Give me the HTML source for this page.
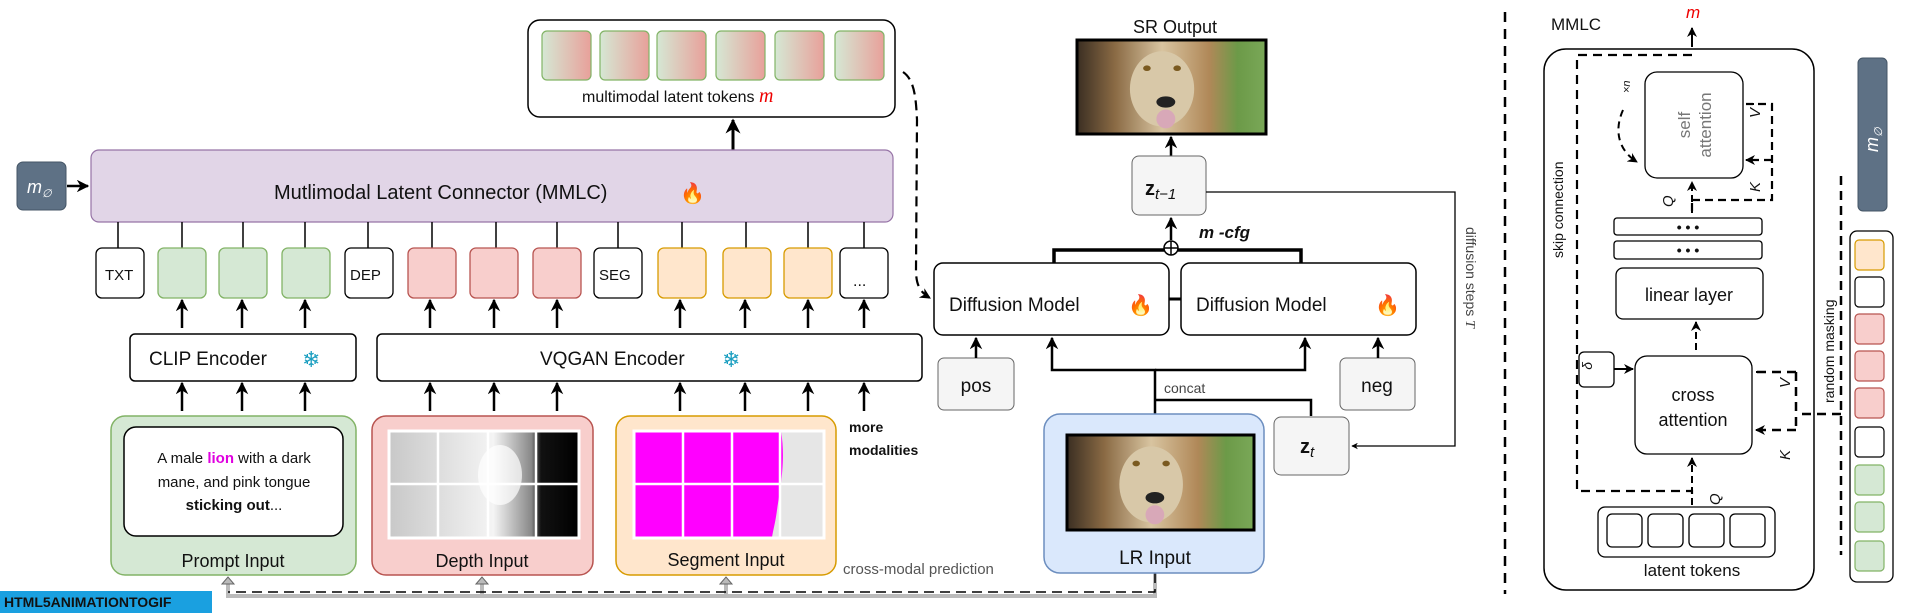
<!DOCTYPE html>
<html><head><meta charset="utf-8"><style>
html,body{margin:0;padding:0;background:#fff}
svg{display:block}
text{font-family:"Liberation Sans",sans-serif;fill:#111}
</style></head><body>
<svg width="1920" height="613" viewBox="0 0 1920 613" xmlns="http://www.w3.org/2000/svg">
<defs>
<linearGradient id="tok" x1="0" x2="1"><stop offset="0" stop-color="#d5e8d4"/><stop offset="1" stop-color="#e8a09a"/></linearGradient>
<linearGradient id="lg" x1="0" x2="1"><stop offset="0" stop-color="#3a2e22"/><stop offset="0.2" stop-color="#8a6a44"/><stop offset="0.45" stop-color="#d8c4a0"/><stop offset="0.7" stop-color="#b08858"/><stop offset="0.85" stop-color="#6c9a48"/><stop offset="1" stop-color="#7aa858"/></linearGradient>
<linearGradient id="dg" x1="0" x2="1"><stop offset="0" stop-color="#c8c8c8"/><stop offset="0.55" stop-color="#f4f4f4"/><stop offset="0.75" stop-color="#888"/><stop offset="0.8" stop-color="#111"/><stop offset="1" stop-color="#000"/></linearGradient>
<marker id="ar" viewBox="0 0 10 10" refX="9" refY="5" markerWidth="5" markerHeight="5" orient="auto"><path d="M0,0 L10,5 L0,10 L3,5z" fill="#000"/></marker>
<g id="lion">
<rect x="0" y="0" width="100" height="50" fill="url(#lg)"/>
<ellipse cx="45" cy="26" rx="17" ry="20" fill="#d8c8a8"/>
<ellipse cx="37" cy="15" rx="2" ry="1.5" fill="#7a5a20"/><ellipse cx="53" cy="15" rx="2" ry="1.5" fill="#7a5a20"/>
<ellipse cx="47" cy="33" rx="5" ry="3" fill="#222"/>
<ellipse cx="47" cy="42" rx="5" ry="5" fill="#d8a8b8"/>
</g>
</defs>

<rect x="528" y="20" width="367" height="97" rx="12" fill="#fff" stroke="#000" stroke-width="1.5"/>
<g stroke="#82b366" stroke-width="1.2">
<rect x="542" y="31" width="49" height="49" rx="5" fill="url(#tok)"/>
<rect x="600" y="31" width="49" height="49" rx="5" fill="url(#tok)"/>
<rect x="657" y="31" width="49" height="49" rx="5" fill="url(#tok)"/>
<rect x="716" y="31" width="49" height="49" rx="5" fill="url(#tok)"/>
<rect x="775" y="31" width="49" height="49" rx="5" fill="url(#tok)"/>
<rect x="835" y="31" width="49" height="49" rx="5" fill="url(#tok)"/>
</g>
<text x="582" y="102" font-size="16">multimodal latent tokens <tspan style="fill:#e00" font-style="italic" font-family="Liberation Serif" font-size="20">m</tspan></text>
<line x1="733" y1="150" x2="733" y2="120" stroke="#000" stroke-width="3" marker-end="url(#ar)"/>

<rect x="17" y="162" width="49" height="48" rx="6" fill="#5e7185" stroke="#445566"/>
<text x="27" y="193" font-size="18" font-style="italic" font-family="Liberation Serif" style="fill:#fff">m<tspan font-size="11" dy="4">∅</tspan></text>
<line x1="67" y1="186" x2="88" y2="186" stroke="#000" stroke-width="2.5" marker-end="url(#ar)"/>
<rect x="91" y="150" width="802" height="72" rx="8" fill="#e1d5e7" stroke="#9673a6" stroke-width="1.2"/>
<text x="274" y="199" font-size="20">Mutlimodal Latent Connector (MMLC)</text>
<text x="680" y="200" font-size="20">🔥</text>

<g stroke="#000" stroke-width="1.5">
<line x1="118" y1="222" x2="118" y2="248"/><line x1="182" y1="222" x2="182" y2="248"/><line x1="243" y1="222" x2="243" y2="248"/><line x1="305" y1="222" x2="305" y2="248"/>
<line x1="368" y1="222" x2="368" y2="248"/><line x1="432" y1="222" x2="432" y2="248"/><line x1="496" y1="222" x2="496" y2="248"/><line x1="557" y1="222" x2="557" y2="248"/>
<line x1="618" y1="222" x2="618" y2="248"/><line x1="682" y1="222" x2="682" y2="248"/><line x1="746" y1="222" x2="746" y2="248"/><line x1="808" y1="222" x2="808" y2="248"/><line x1="864" y1="222" x2="864" y2="248"/>
</g>
<g stroke-width="1.3">
<rect x="96" y="248" width="48" height="50" rx="6" fill="#fff" stroke="#000"/>
<rect x="158" y="248" width="48" height="50" rx="6" fill="#d5e8d4" stroke="#82b366"/>
<rect x="219" y="248" width="48" height="50" rx="6" fill="#d5e8d4" stroke="#82b366"/>
<rect x="282" y="248" width="48" height="50" rx="6" fill="#d5e8d4" stroke="#82b366"/>
<rect x="345" y="248" width="48" height="50" rx="6" fill="#fff" stroke="#000"/>
<rect x="408" y="248" width="48" height="50" rx="6" fill="#f8cecc" stroke="#b85450"/>
<rect x="470" y="248" width="48" height="50" rx="6" fill="#f8cecc" stroke="#b85450"/>
<rect x="533" y="248" width="48" height="50" rx="6" fill="#f8cecc" stroke="#b85450"/>
<rect x="594" y="248" width="48" height="50" rx="6" fill="#fff" stroke="#000"/>
<rect x="658" y="248" width="48" height="50" rx="6" fill="#ffe6cc" stroke="#d79b00"/>
<rect x="723" y="248" width="48" height="50" rx="6" fill="#ffe6cc" stroke="#d79b00"/>
<rect x="784" y="248" width="48" height="50" rx="6" fill="#ffe6cc" stroke="#d79b00"/>
<rect x="840" y="248" width="48" height="50" rx="6" fill="#fff" stroke="#000"/>
</g>
<text x="105" y="280" font-size="15">TXT</text><text x="350" y="280" font-size="15">DEP</text><text x="599" y="280" font-size="15">SEG</text><text x="853" y="286" font-size="16">...</text>

<g stroke="#000" stroke-width="2.5" marker-end="url(#ar)">
<line x1="182" y1="328" x2="182" y2="300"/><line x1="242" y1="328" x2="242" y2="300"/><line x1="305" y1="328" x2="305" y2="300"/>
<line x1="430" y1="328" x2="430" y2="300"/><line x1="494" y1="328" x2="494" y2="300"/><line x1="557" y1="328" x2="557" y2="300"/>
<line x1="680" y1="328" x2="680" y2="300"/><line x1="745" y1="328" x2="745" y2="300"/><line x1="808" y1="328" x2="808" y2="300"/><line x1="864" y1="328" x2="864" y2="300"/>
<line x1="182" y1="411" x2="182" y2="383"/><line x1="242" y1="411" x2="242" y2="383"/><line x1="305" y1="411" x2="305" y2="383"/>
<line x1="430" y1="411" x2="430" y2="383"/><line x1="494" y1="411" x2="494" y2="383"/><line x1="557" y1="411" x2="557" y2="383"/>
<line x1="680" y1="411" x2="680" y2="383"/><line x1="745" y1="411" x2="745" y2="383"/><line x1="808" y1="411" x2="808" y2="383"/><line x1="864" y1="411" x2="864" y2="383"/>
</g>
<rect x="130" y="334" width="226" height="47" rx="5" fill="#fff" stroke="#000" stroke-width="1.5"/>
<text x="149" y="365" font-size="19">CLIP Encoder</text><text x="302" y="367" font-size="22" style="fill:#1a9ec0">❄</text>
<rect x="377" y="334" width="545" height="47" rx="5" fill="#fff" stroke="#000" stroke-width="1.5"/>
<text x="540" y="365" font-size="19">VQGAN Encoder</text><text x="722" y="367" font-size="22" style="fill:#1a9ec0">❄</text>

<rect x="111" y="416" width="245" height="159" rx="14" fill="#d5e8d4" stroke="#82b366" stroke-width="1.5"/>
<rect x="124" y="427" width="219" height="109" rx="12" fill="#fff" stroke="#000" stroke-width="1.5"/>
<text x="234" y="463" font-size="15" text-anchor="middle">A male <tspan style="fill:#e000e0" font-weight="bold">lion</tspan> with a dark</text>
<text x="234" y="487" font-size="15" text-anchor="middle">mane, and pink tongue</text>
<text x="234" y="510" font-size="15" text-anchor="middle"><tspan font-weight="bold">sticking out</tspan>...</text>
<text x="233" y="567" font-size="18" text-anchor="middle">Prompt Input</text>

<rect x="372" y="416" width="221" height="159" rx="14" fill="#f8cecc" stroke="#b85450" stroke-width="1.5"/>
<rect x="389" y="431" width="190" height="107" fill="url(#dg)"/>
<ellipse cx="500" cy="475" rx="22" ry="30" fill="#fff" opacity="0.7"/>
<g stroke="#fff" stroke-width="2.5"><line x1="389" y1="484" x2="579" y2="484"/><line x1="438" y1="431" x2="438" y2="538"/><line x1="488" y1="431" x2="488" y2="538"/><line x1="536" y1="431" x2="536" y2="538"/></g>
<rect x="389" y="431" width="190" height="107" fill="none" stroke="#fff" stroke-width="3"/>
<text x="482" y="567" font-size="18" text-anchor="middle">Depth Input</text>

<rect x="616" y="416" width="220" height="159" rx="14" fill="#ffe6cc" stroke="#d79b00" stroke-width="1.5"/>
<rect x="634" y="431" width="190" height="107" fill="#e6e6e6"/>
<path d="M634,431 H781 C786,460 780,490 777,510 C775,525 773,530 772,538 H634Z" fill="#f0f"/>
<g stroke="#fff" stroke-width="2.5"><line x1="634" y1="484" x2="824" y2="484"/><line x1="683" y1="431" x2="683" y2="538"/><line x1="732" y1="431" x2="732" y2="538"/><line x1="780" y1="431" x2="780" y2="538"/></g>
<rect x="634" y="431" width="190" height="107" fill="none" stroke="#fff" stroke-width="3"/>
<text x="726" y="566" font-size="18" text-anchor="middle">Segment Input</text>
<text x="849" y="432" font-size="14" font-weight="bold">more</text>
<text x="849" y="455" font-size="14" font-weight="bold">modalities</text>

<path d="M1155,573 V596 H228 V580 M482,596 V580 M726,596 V580" fill="none" stroke="#bbb" stroke-width="4"/>
<path d="M1155,573 V592 H228" fill="none" stroke="#000" stroke-width="1.5" stroke-dasharray="10,6"/>
<path d="M222,584 l6,-7 l6,7z M476,584 l6,-7 l6,7z M720,584 l6,-7 l6,7z" fill="#bbb" stroke="#666"/>
<text x="843" y="574" font-size="15" style="fill:#555">cross-modal prediction</text>
<rect x="0" y="591" width="212" height="22" fill="#1aa0e0"/>
<text x="4" y="607" font-size="14" font-weight="bold" font-family="Liberation Serif" style="fill:#111">HTML5ANIMATIONTOGIF</text>

<path d="M903,72 C915,80 916,100 917,120 L916,270 C916,285 920,292 930,298" fill="none" stroke="#000" stroke-width="2.2" stroke-dasharray="10,6" marker-end="url(#ar)"/>

<text x="1175" y="33" font-size="18" text-anchor="middle">SR Output</text>
<use href="#lion" transform="translate(1077,40) scale(1.89,1.88)"/>
<rect x="1077" y="40" width="189" height="94" fill="none" stroke="#000" stroke-width="3"/>
<line x1="1171" y1="156" x2="1171" y2="137" stroke="#000" stroke-width="2.5" marker-end="url(#ar)"/>
<rect x="1132" y="156" width="74" height="59" rx="7" fill="#f5f5f5" stroke="#666"/>
<text x="1145" y="195" font-size="20" font-weight="bold" font-family="Liberation Serif">z<tspan font-weight="normal" font-style="italic" font-size="15" dy="4">t−1</tspan></text>
<line x1="1171" y1="240" x2="1171" y2="218" stroke="#000" stroke-width="2.5" marker-end="url(#ar)"/>
<text x="1199" y="238" font-size="17" font-style="italic" font-family="Liberation Serif" font-weight="bold">m -cfg</text>
<path d="M1054,263 V250 H1301 V263" fill="none" stroke="#000" stroke-width="3.5"/>
<circle cx="1171" cy="248" r="7" fill="#fff" stroke="#000" stroke-width="1.5"/>
<path d="M1164,248 H1178 M1171,241 V255" stroke="#000" stroke-width="1.5"/>
<line x1="1169" y1="299" x2="1181" y2="299" stroke="#000" stroke-width="3"/>

<rect x="934" y="263" width="235" height="72" rx="9" fill="#fff" stroke="#000" stroke-width="1.5"/>
<text x="949" y="311" font-size="19">Diffusion Model</text><text x="1128" y="312" font-size="20">🔥</text>
<rect x="1181" y="263" width="235" height="72" rx="9" fill="#fff" stroke="#000" stroke-width="1.5"/>
<text x="1196" y="311" font-size="19">Diffusion Model</text><text x="1375" y="312" font-size="20">🔥</text>

<rect x="938" y="358" width="76" height="52" rx="6" fill="#f5f5f5" stroke="#666"/>
<text x="976" y="392" font-size="19" text-anchor="middle">pos</text>
<rect x="1340" y="358" width="75" height="52" rx="6" fill="#f5f5f5" stroke="#666"/>
<text x="1377" y="392" font-size="19" text-anchor="middle">neg</text>
<g stroke="#000" stroke-width="2.5" fill="none">
<line x1="976" y1="358" x2="976" y2="338" marker-end="url(#ar)"/>
<line x1="1378" y1="358" x2="1378" y2="338" marker-end="url(#ar)"/>
<path d="M1155,414 V370 H1052 V338" marker-end="url(#ar)"/>
<path d="M1155,370 H1305 V338" marker-end="url(#ar)"/>
<path d="M1155,400 H1311 V416"/>
</g>
<text x="1164" y="393" font-size="14" style="fill:#444">concat</text>

<rect x="1044" y="414" width="220" height="159" rx="16" fill="#dae8fc" stroke="#6c8ebf" stroke-width="1.5"/>
<use href="#lion" transform="translate(1067,435) scale(1.87,1.9)"/>
<rect x="1067" y="435" width="187" height="95" fill="none" stroke="#000" stroke-width="3"/>
<text x="1155" y="564" font-size="19" text-anchor="middle">LR Input</text>

<rect x="1274" y="417" width="75" height="58" rx="7" fill="#f5f5f5" stroke="#666"/>
<text x="1300" y="453" font-size="20" font-weight="bold" font-family="Liberation Serif">z<tspan font-weight="normal" font-style="italic" font-size="15" dy="4">t</tspan></text>
<path d="M1206,192 H1455 V446 H1352" fill="none" stroke="#000" stroke-width="1.3" marker-end="url(#ar)"/>
<text transform="translate(1466,227) rotate(90)" font-size="14" style="fill:#444">diffusion steps <tspan font-style="italic" font-family="Liberation Serif">T</tspan></text>

<line x1="1505" y1="12" x2="1505" y2="594" stroke="#000" stroke-width="2.5" stroke-dasharray="10,7"/>

<text x="1551" y="30" font-size="17">MMLC</text>
<text x="1686" y="18" font-size="17" font-style="italic" font-family="Liberation Serif" style="fill:#e00">m</text>
<line x1="1692" y1="47" x2="1692" y2="28" stroke="#000" stroke-width="2" marker-end="url(#ar)"/>
<rect x="1544" y="49" width="270" height="541" rx="22" fill="#fff" stroke="#000" stroke-width="1.5"/>
<path d="M1692,55 H1577 V491 H1692 V500" fill="none" stroke="#000" stroke-width="2.2" stroke-dasharray="9,6"/>
<text transform="translate(1563,258) rotate(-90)" font-size="14">skip connection</text>

<rect x="1645" y="72" width="98" height="106" rx="12" fill="#fff" stroke="#000" stroke-width="1.3"/>
<text transform="translate(1690,125) rotate(-90)" font-size="17" style="fill:#777" text-anchor="middle">self</text>
<text transform="translate(1711,125) rotate(-90)" font-size="17" style="fill:#777" text-anchor="middle">attention</text>
<text transform="translate(1630,93) rotate(-90)" font-size="11" font-style="italic" font-family="Liberation Serif">×n</text>
<path d="M1623,110 C1614,130 1618,150 1637,162" fill="none" stroke="#000" stroke-width="2" stroke-dasharray="7,5" marker-end="url(#ar)"/>
<path d="M1692,211 V200 M1692,200 H1772 V104 H1746 M1772,160 H1746" fill="none" stroke="#000" stroke-width="2.2" stroke-dasharray="8,5"/>
<path d="M1754,104 l-8,0 M1754,160 l-8,0" stroke="#000" stroke-width="2" marker-end="url(#ar)"/>
<line x1="1692" y1="213" x2="1692" y2="182" stroke="#000" stroke-width="2" stroke-dasharray="7,4" marker-end="url(#ar)"/>
<text transform="translate(1760,118) rotate(-90)" font-size="15" font-style="italic" font-family="Liberation Serif">V</text>
<text transform="translate(1760,192) rotate(-90)" font-size="15" font-style="italic" font-family="Liberation Serif">K</text>
<text transform="translate(1673,207) rotate(-90)" font-size="15" font-style="italic" font-family="Liberation Serif">Q</text>

<rect x="1614" y="218" width="148" height="17" rx="3" fill="#fff" stroke="#000" stroke-width="1.3"/>
<rect x="1614" y="241" width="148" height="18" rx="3" fill="#fff" stroke="#000" stroke-width="1.3"/>
<text x="1688" y="232" font-size="14" text-anchor="middle" font-weight="bold">• • •</text>
<text x="1688" y="255" font-size="14" text-anchor="middle" font-weight="bold">• • •</text>
<rect x="1616" y="268" width="147" height="51" rx="7" fill="#fff" stroke="#000" stroke-width="1.3"/>
<text x="1689" y="301" font-size="18" text-anchor="middle">linear layer</text>
<line x1="1696" y1="350" x2="1696" y2="322" stroke="#000" stroke-width="2" stroke-dasharray="7,4" marker-end="url(#ar)"/>

<rect x="1635" y="356" width="117" height="98" rx="12" fill="#fff" stroke="#000" stroke-width="1.3"/>
<text x="1693" y="401" font-size="18" text-anchor="middle">cross</text>
<text x="1693" y="426" font-size="18" text-anchor="middle">attention</text>
<rect x="1579" y="352" width="35" height="35" rx="5" fill="#fff" stroke="#000" stroke-width="1.3"/>
<text transform="translate(1592,362) rotate(-90)" font-size="14" font-style="italic" font-family="Liberation Serif" text-anchor="end">δ</text>
<line x1="1614" y1="369" x2="1633" y2="369" stroke="#000" stroke-width="2" marker-end="url(#ar)"/>
<line x1="1692" y1="505" x2="1692" y2="458" stroke="#000" stroke-width="2" stroke-dasharray="7,4" marker-end="url(#ar)"/>
<path d="M1841,176 V555 M1841,414 H1800 M1796,372 V430 M1796,372 H1756 M1796,430 H1756" fill="none" stroke="#000" stroke-width="2.5" stroke-dasharray="9,6"/>
<path d="M1762,372 l-6,0 M1762,430 l-6,0" stroke="#000" stroke-width="2" marker-end="url(#ar)"/>
<text transform="translate(1790,388) rotate(-90)" font-size="15" font-style="italic" font-family="Liberation Serif">V</text>
<text transform="translate(1790,460) rotate(-90)" font-size="15" font-style="italic" font-family="Liberation Serif">K</text>
<text transform="translate(1720,505) rotate(-90)" font-size="15" font-style="italic" font-family="Liberation Serif">Q</text>

<rect x="1598" y="507" width="177" height="50" rx="7" fill="#fff" stroke="#000" stroke-width="1.3"/>
<g fill="#fff" stroke="#000" stroke-width="1.3">
<rect x="1607" y="514" width="35" height="33" rx="5"/><rect x="1648" y="514" width="35" height="33" rx="5"/><rect x="1689" y="514" width="35" height="33" rx="5"/><rect x="1730" y="514" width="35" height="33" rx="5"/>
</g>
<text x="1692" y="576" font-size="17" text-anchor="middle">latent tokens</text>

<rect x="1858" y="58" width="29" height="153" rx="5" fill="#5e7185" stroke="#445566"/>
<text transform="translate(1878,152) rotate(-90)" font-size="18" font-style="italic" font-family="Liberation Serif" style="fill:#fff">m<tspan font-size="11" dy="4">∅</tspan></text>
<text transform="translate(1834,403) rotate(-90)" font-size="14">random masking</text>
<rect x="1850" y="231" width="43" height="351" rx="7" fill="#fff" stroke="#000" stroke-width="1.3"/>
<g stroke-width="1.2">
<rect x="1855" y="240" width="29" height="30" rx="4" fill="#ffe6cc" stroke="#d79b00"/>
<rect x="1855" y="277" width="29" height="30" rx="4" fill="#fff" stroke="#000"/>
<rect x="1855" y="314" width="29" height="30" rx="4" fill="#f8cecc" stroke="#b85450"/>
<rect x="1855" y="351" width="29" height="30" rx="4" fill="#f8cecc" stroke="#b85450"/>
<rect x="1855" y="388" width="29" height="30" rx="4" fill="#f8cecc" stroke="#b85450"/>
<rect x="1855" y="427" width="29" height="30" rx="4" fill="#fff" stroke="#000"/>
<rect x="1855" y="465" width="29" height="30" rx="4" fill="#d5e8d4" stroke="#82b366"/>
<rect x="1855" y="502" width="29" height="30" rx="4" fill="#d5e8d4" stroke="#82b366"/>
<rect x="1855" y="541" width="29" height="30" rx="4" fill="#d5e8d4" stroke="#82b366"/>
</g>
</svg>
</body></html>
